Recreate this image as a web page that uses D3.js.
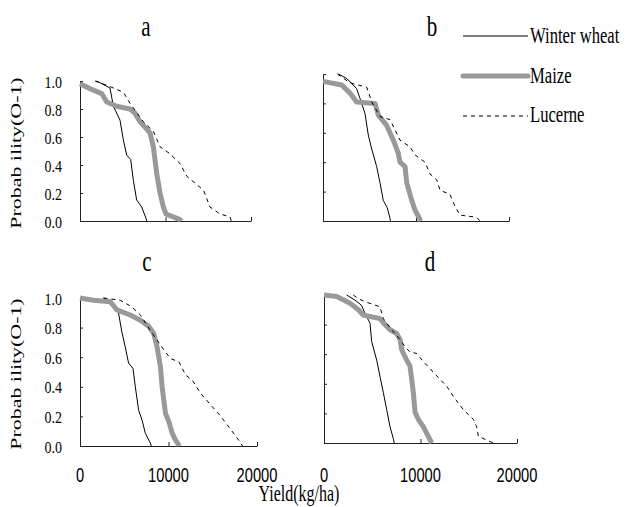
<!DOCTYPE html>
<html>
<head>
<meta charset="utf-8">
<script src="https://cdn.jsdelivr.net/npm/d3@7"></script>
<style>
  html, body { margin: 0; padding: 0; background: #fff; }
  svg { display: block; }
</style>
</head>
<body>
<svg id="chart" width="633" height="507"></svg>
<script>
// exceedance curves, [yield kg/ha, probability]
const wheatA = [[1950,1.0],[3510,0.95],[3900,0.82],[4680,0.72],[5070,0.58],[5460,0.47],[5930,0.44],[6240,0.29],[6630,0.15],[7210,0.10],[7720,0.02],[7800,0]];
const maizeA = [[0,0.98],[1370,0.94],[2540,0.91],[3120,0.85],[4290,0.82],[5850,0.80],[6430,0.77],[7020,0.71],[8190,0.63],[8580,0.53],[8970,0.34],[9360,0.20],[9750,0.10],[10060,0.05],[10900,0.03],[11700,0.01],[11800,0]];
const lucerneA = [[1750,1.0],[3120,0.97],[5070,0.92],[5850,0.84],[7400,0.71],[8580,0.64],[9360,0.53],[10530,0.48],[11700,0.41],[12480,0.32],[14440,0.22],[15200,0.10],[16370,0.05],[17540,0.03],[17700,0]];

const wheatB = [[1650,1.0],[2550,0.97],[3620,0.90],[4160,0.80],[4520,0.73],[4870,0.585],[5240,0.49],[5770,0.37],[6130,0.26],[6480,0.14],[6910,0.09],[7200,0.02],[7250,0]];
const maizeB = [[0,0.95],[2010,0.925],[2900,0.87],[3620,0.81],[5590,0.80],[5950,0.72],[6850,0.65],[7560,0.55],[8100,0.46],[8280,0.40],[8820,0.37],[9000,0.26],[9540,0.14],[9890,0.075],[10430,0.01],[10500,0]];
const lucerneB = [[1540,1.0],[2900,0.94],[4700,0.91],[5240,0.81],[6130,0.71],[7200,0.69],[7740,0.62],[8280,0.55],[9350,0.505],[9890,0.45],[10970,0.40],[11510,0.32],[12230,0.28],[12580,0.21],[13660,0.18],[14190,0.10],[14730,0.04],[16530,0.025],[16880,0]];

const wheatC = [[2650,1.0],[3600,0.975],[4350,0.90],[4730,0.77],[5110,0.67],[5490,0.56],[5980,0.525],[6250,0.40],[6630,0.24],[7010,0.175],[7390,0.085],[7950,0.02],[8050,0]];
const maizeC = [[0,1.0],[1520,0.985],[3410,0.975],[4170,0.92],[5680,0.885],[6820,0.85],[7760,0.81],[8330,0.76],[8710,0.67],[9090,0.535],[9280,0.40],[9660,0.22],[10040,0.165],[10420,0.085],[10800,0.04],[11170,0.005],[11200,0]];
const lucerneC = [[2650,1.0],[4550,0.985],[5870,0.94],[6820,0.885],[7950,0.78],[8710,0.715],[9470,0.65],[10230,0.59],[11170,0.57],[11930,0.48],[12690,0.445],[13640,0.355],[14960,0.265],[15910,0.20],[17050,0.11],[17990,0.035],[18370,0]];

const wheatD = [[2350,1.0],[3210,0.965],[3900,0.93],[4250,0.875],[4770,0.81],[4940,0.685],[5460,0.56],[5800,0.45],[6150,0.34],[6500,0.225],[6840,0.11],[7180,0.03],[7280,0]];
const maizeD = [[0,1.0],[1310,0.99],[2690,0.945],[3560,0.90],[4070,0.865],[4770,0.855],[5800,0.84],[6320,0.80],[6840,0.765],[7530,0.74],[7880,0.70],[8050,0.63],[8570,0.56],[8910,0.52],[9090,0.43],[9260,0.34],[9430,0.21],[9770,0.16],[10290,0.11],[10810,0.045],[11160,0]];
const lucerneD = [[3040,1.0],[3560,0.975],[4250,0.955],[5800,0.92],[6150,0.84],[7010,0.765],[7880,0.70],[8390,0.65],[8910,0.615],[9610,0.605],[10290,0.55],[10810,0.515],[12020,0.43],[12710,0.385],[13400,0.315],[14440,0.225],[15480,0.16],[15820,0.11],[16000,0.045],[16860,0.02],[17550,0]];

const panelNames = ["a", "b", "c", "d"];
const crops = ["Winter wheat", "Maize", "Lucerne"];
const xTicks = [0, 10000, 20000];
const yTicks = [0, 0.2, 0.4, 0.6, 0.8, 1.0];

const series = {
  a: [wheatA, maizeA, lucerneA],
  b: [wheatB, maizeB, lucerneB],
  c: [wheatC, maizeC, lucerneC],
  d: [wheatD, maizeD, lucerneD]
};

// plot boxes: left, right (20000), bottom (0), top (1.0)
const boxes = {
  a: { l: 80, r: 251, b: 221, t: 81, tx: 146, ty: 36, yLab: true, xLab: false },
  b: { l: 323, r: 509, b: 221, t: 74, tx: 432, ty: 36, yLab: false, xLab: false },
  c: { l: 80, r: 257, b: 446, t: 298, tx: 147, ty: 271, yLab: true, xLab: true },
  d: { l: 324, r: 517, b: 443, t: 295, tx: 430, ty: 271, yLab: false, xLab: true }
};

const styles = [
  { stroke: "#000", width: 1, dash: null },
  { stroke: "#999", width: 5, dash: null },
  { stroke: "#000", width: 1, dash: "4,4" }
];

const serif = "'Liberation Serif', 'Times New Roman', serif";
const sans = "'Liberation Sans', Arial, sans-serif";

const svg = d3.select("#chart");

// text drawn a bit taller than wide, like the source picture
function label(x, y, str, opt) {
  const o = Object.assign({ size: 15, sx: 1, sy: 1.4, anchor: "start", family: serif, rot: 0 }, opt);
  return svg.append("text")
    .attr("transform", `translate(${x},${y}) rotate(${o.rot}) scale(${o.sx},${o.sy})`)
    .attr("font-family", o.family)
    .attr("font-size", o.size)
    .attr("text-anchor", o.anchor)
    .attr("fill", "#000")
    .text(str);
}

panelNames.forEach(name => {
  const box = boxes[name];
  const x = d3.scaleLinear().domain([0, 20000]).range([box.l, box.r]);
  const y = d3.scaleLinear().domain([0, 1]).range([box.b, box.t]);
  const g = svg.append("g");

  g.append("g")
    .attr("transform", `translate(${box.l},0)`)
    .call(d3.axisLeft(y).tickValues(yTicks).tickSizeInner(-3).tickSizeOuter(0).tickFormat(""))
    .call(a => a.selectAll("path, line").attr("stroke", "#222"));

  g.append("g")
    .attr("transform", `translate(0,${box.b})`)
    .call(d3.axisBottom(x).tickValues(xTicks).tickSizeInner(-4).tickSizeOuter(0).tickFormat(""))
    .call(a => a.selectAll("path, line").attr("stroke", "#222"));

  const line = d3.line().x(d => x(d[0])).y(d => y(d[1]));
  series[name].forEach((data, i) => {
    const s = styles[i];
    g.append("path")
      .datum(data)
      .attr("fill", "none")
      .attr("stroke", s.stroke)
      .attr("stroke-width", s.width)
      .attr("stroke-dasharray", s.dash)
      .attr("stroke-linejoin", "round")
      .attr("d", line);
  });

  label(box.tx, box.ty, name, { size: 21, anchor: "middle" });

  if (box.yLab) {
    yTicks.forEach(v => {
      label(62, y(v) + 6.5, v.toFixed(1), { size: 14, sy: 1.25, anchor: "end" });
    });
    label(21, (box.t + box.b) / 2 + 2, "Probab ility(O-1)", { size: 15, rot: -90, sx: 1.46, sy: 1, anchor: "middle" });
  }
  if (box.xLab) {
    xTicks.forEach(v => {
      label(x(v), 481.5, String(v), { size: 15, sx: 0.98, family: sans, anchor: "middle" });
    });
  }
});

// legend
const legendRows = [36, 76, 116];
const legendBase = [43, 83, 121.5];
crops.forEach((c, i) => {
  const s = styles[i];
  svg.append("line")
    .attr("x1", 463).attr("x2", 528)
    .attr("y1", legendRows[i]).attr("y2", legendRows[i])
    .attr("stroke", s.stroke)
    .attr("stroke-width", s.width)
    .attr("stroke-dasharray", s.dash)
    .attr("stroke-linecap", i === 1 ? "round" : "butt");
  label(530, legendBase[i], c, { size: 16, sx: 1.04 });
});

label(299, 501, "Yield(kg/ha)", { size: 16, anchor: "middle" });
</script>
</body>
</html>
